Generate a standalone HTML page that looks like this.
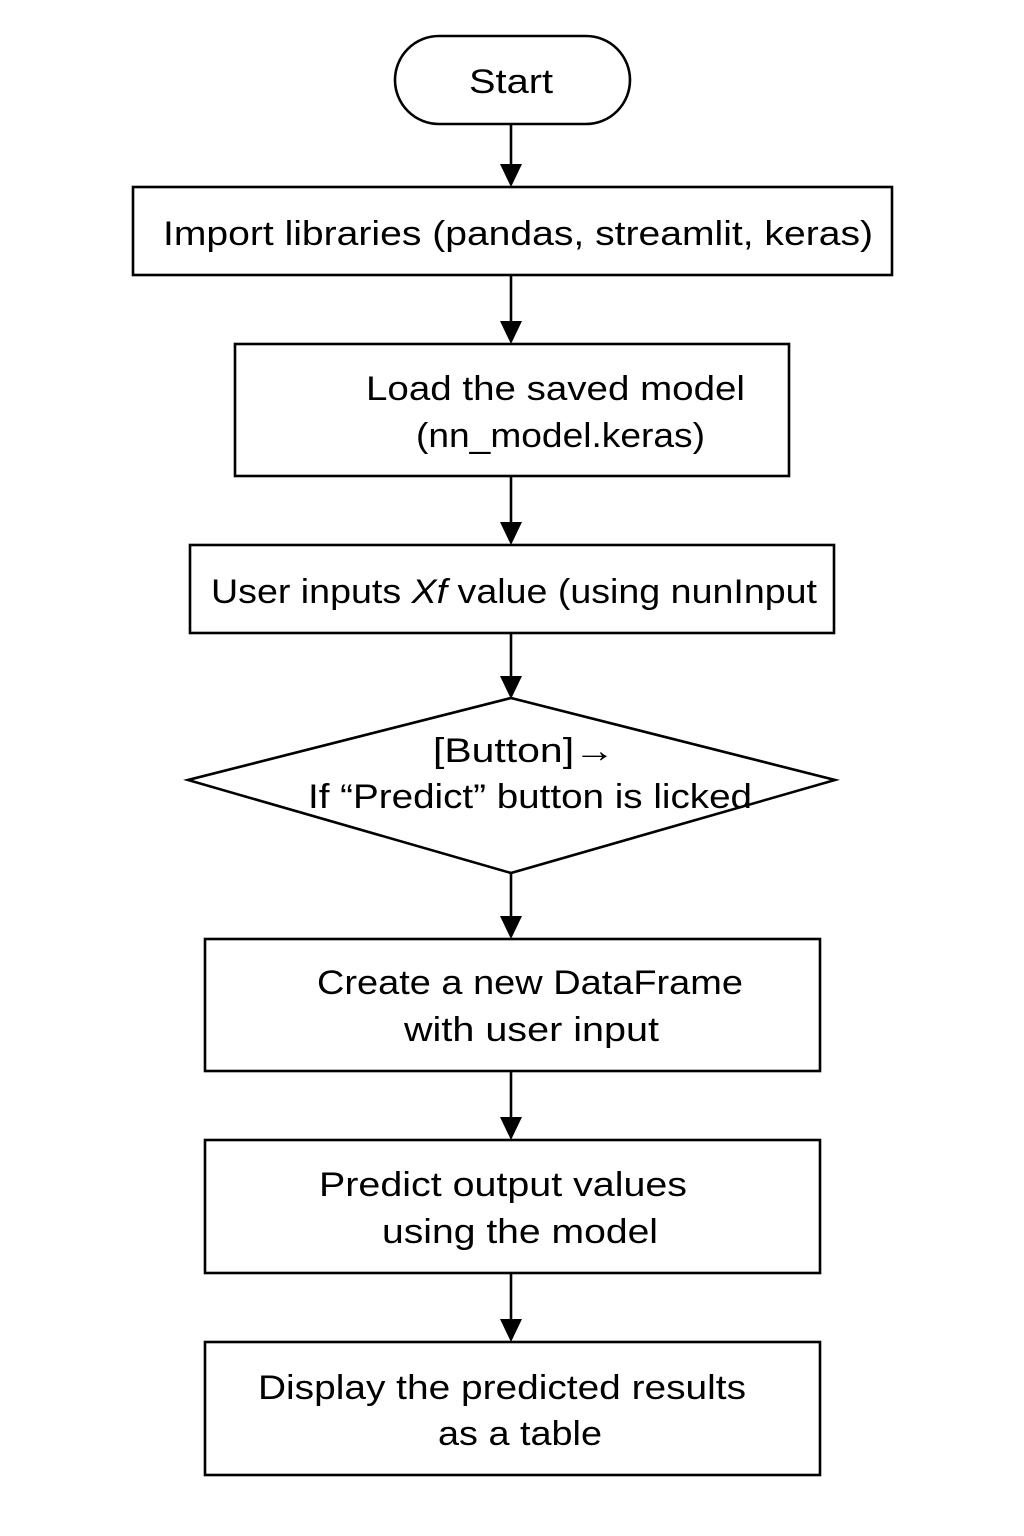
<!DOCTYPE html>
<html><head><meta charset="utf-8"><style>
html,body{margin:0;padding:0;background:#fff;}
svg{display:block;}
text{font-family:"Liberation Sans",sans-serif;font-size:34px;fill:#000;}
</style></head><body>
<svg width="1024" height="1536" viewBox="0 0 1024 1536" xmlns="http://www.w3.org/2000/svg">
<defs><marker id="a" markerWidth="10" markerHeight="10" refX="9" refY="5" orient="auto" markerUnits="userSpaceOnUse" viewBox="0 0 10 10"><path d="M0,0 L10,5 L0,10 z" fill="#000"/></marker>
</defs>
<g fill="none" stroke="#000" stroke-width="2.6">
<rect x="395" y="36" width="235" height="88" rx="44"/>
<rect x="133" y="187" width="759" height="88"/>
<rect x="235" y="344" width="554" height="132"/>
<rect x="190" y="545" width="644" height="88"/>
<polygon points="511,698 835,780 511,873 188,780"/>
<rect x="205" y="939" width="615" height="132"/>
<rect x="205" y="1140" width="615" height="133"/>
<rect x="205" y="1342" width="615" height="133"/>
</g>
<g stroke="#000" stroke-width="2.6">
<line x1="511" y1="124" x2="511" y2="168"/>
<line x1="511" y1="275" x2="511" y2="325"/>
<line x1="511" y1="476" x2="511" y2="527"/>
<line x1="511" y1="633" x2="511" y2="680"/>
<line x1="511" y1="873" x2="511" y2="920"/>
<line x1="511" y1="1071" x2="511" y2="1121"/>
<line x1="511" y1="1273" x2="511" y2="1323"/>
</g>
<g fill="#000">
<path d="M500,164 L522,164 L511,187 z"/>
<path d="M500,321 L522,321 L511,344 z"/>
<path d="M500,522 L522,522 L511,545 z"/>
<path d="M500,676 L522,676 L511,699 z"/>
<path d="M500,916 L522,916 L511,939 z"/>
<path d="M500,1117 L522,1117 L511,1140 z"/>
<path d="M500,1319 L522,1319 L511,1342 z"/>
</g>
<text x="469" y="93" textLength="84" lengthAdjust="spacingAndGlyphs">Start</text>
<text x="163" y="245" textLength="710" lengthAdjust="spacingAndGlyphs">Import libraries (pandas, streamlit, keras)</text>
<text x="366" y="400" textLength="379" lengthAdjust="spacingAndGlyphs">Load the saved model</text>
<text x="416" y="447" textLength="289" lengthAdjust="spacingAndGlyphs">(nn_model.keras)</text>
<text x="211" y="603" textLength="606" lengthAdjust="spacingAndGlyphs">User inputs <tspan font-style="italic">Xf</tspan> value (using nunInput</text>
<text x="433" y="762" textLength="182" lengthAdjust="spacingAndGlyphs">[Button]→</text>
<text x="308" y="808" textLength="444" lengthAdjust="spacingAndGlyphs">If “Predict” button is licked</text>
<text x="317" y="994" textLength="426" lengthAdjust="spacingAndGlyphs">Create a new DataFrame</text>
<text x="404" y="1041" textLength="255" lengthAdjust="spacingAndGlyphs">with user input</text>
<text x="319" y="1196" textLength="368" lengthAdjust="spacingAndGlyphs">Predict output values</text>
<text x="382" y="1243" textLength="276" lengthAdjust="spacingAndGlyphs">using the model</text>
<text x="258" y="1399" textLength="488" lengthAdjust="spacingAndGlyphs">Display the predicted results</text>
<text x="438" y="1445" textLength="164" lengthAdjust="spacingAndGlyphs">as a table</text>
</svg>
</body></html>
